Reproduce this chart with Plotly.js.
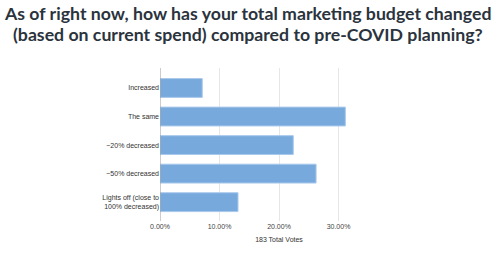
<!DOCTYPE html>
<html><head><meta charset="utf-8">
<script src="https://cdn.plot.ly/plotly-3.0.1.min.js"></script>
<style>html,body{margin:0;padding:0;background:#fff;}#chart{width:500px;height:254px;}</style>
</head><body><div id="chart"></div>
<script>
const categories = ["Increased", "The same", "~20% decreased", "~50% decreased", "Lights off (close to<br>100% decreased)"];
const shares = [0.0710, 0.3115, 0.2240, 0.2623, 0.1311];
const tickValues = [0, 0.1, 0.2, 0.3, 0.4];
const tickLabels = ["0.00%", "10.00%", "20.00%", "30.00%", ""];
const axisTitle = "183 Total Votes";
const titleLines = ["As of right now, how has your total marketing budget changed", "(based on current spend) compared to pre-COVID planning?"];

const trace = {
  type: "bar", orientation: "h",
  x: shares, y: categories,
  marker: {color: "#78a9dd", line: {color: "#a9c9ec", width: 1}},
  hoverinfo: "none"
};
const titleY = [1.356, 1.219];
const layout = {
  width: 500, height: 254,
  margin: {l: 160, r: 102, t: 68, b: 33},
  paper_bgcolor: "#fff", plot_bgcolor: "#fff",
  bargap: 0.34,
  annotations: titleLines.map((t, i) => ({text: t, xref: "paper", yref: "paper", x: 0.368, y: titleY[i],
    xanchor: "center", yanchor: "middle", showarrow: false, align: "center",
    font: {family: "Lato, sans-serif", size: 17.7, color: "#2b333d", weight: 700}})),
  xaxis: {range: [0, 0.4], tickvals: tickValues, ticktext: tickLabels,
    showgrid: true, gridcolor: "#e6e6e6", gridwidth: 1, zeroline: false,
    showline: false, ticks: "", ticklen: 0,
    tickfont: {family: "Liberation Sans, Arial, sans-serif", size: 7, color: "#444"},
    title: {text: axisTitle, standoff: 8, font: {family: "Liberation Sans, Arial, sans-serif", size: 7, color: "#333"}}},
  yaxis: {type: "category", categoryorder: "array", categoryarray: categories,
    range: [4.66, -0.7], showgrid: false, zeroline: false, showline: false,
    ticks: "", ticklen: 0,
    tickfont: {family: "Liberation Sans, Arial, sans-serif", size: 7, color: "#333"}},
  shapes: [{type: "line", xref: "x", yref: "paper", x0: 0, x1: 0, y0: 0, y1: 1,
    line: {color: "#999", width: 1}}],
  showlegend: false
};
Plotly.newPlot("chart", [trace], layout, {staticPlot: true, displayModeBar: false});
</script></body></html>
